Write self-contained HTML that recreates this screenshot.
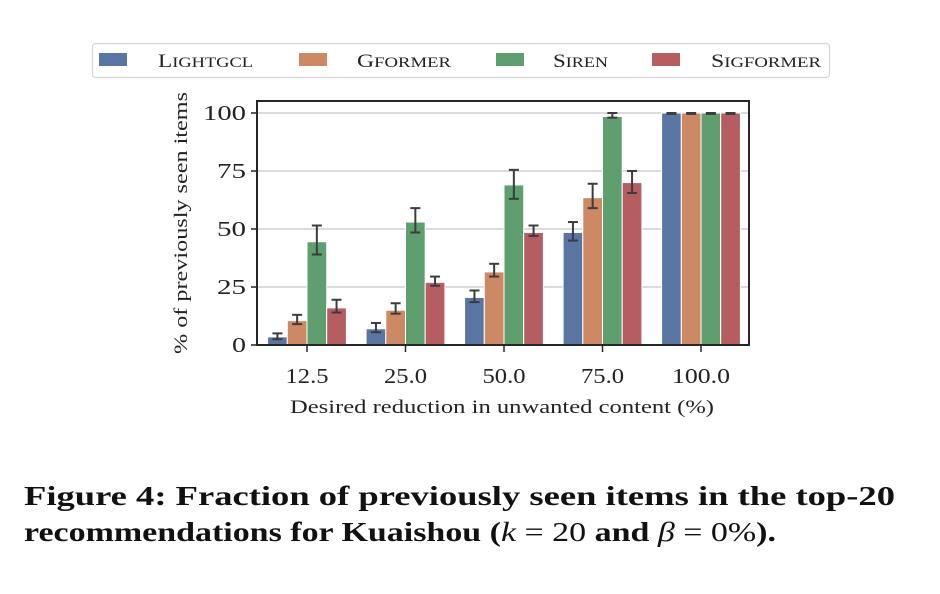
<!DOCTYPE html>
<html><head><meta charset="utf-8"><style>
html,body{margin:0;padding:0;background:#fff;width:940px;height:594px;overflow:hidden}
svg{display:block;font-family:"Liberation Serif",serif}
</style></head><body>
<svg id="s" width="940" height="594" viewBox="0 0 940 594" xmlns="http://www.w3.org/2000/svg">
<rect x="92.5" y="43.5" width="737" height="34" rx="3" fill="#fff" stroke="#d6d6d6" stroke-width="1.2"/>
<rect x="99" y="53" width="28" height="13" fill="#5875a4"/>
<text x="158" y="67" font-size="19" fill="#222" textLength="95" lengthAdjust="spacingAndGlyphs">L<tspan font-size="15">IGHTGCL</tspan></text>
<rect x="299" y="53" width="28" height="13" fill="#cc8963"/>
<text x="357" y="67" font-size="19" fill="#222" textLength="94" lengthAdjust="spacingAndGlyphs">G<tspan font-size="15">FORMER</tspan></text>
<rect x="496" y="53" width="28" height="13" fill="#5f9e6e"/>
<text x="553" y="67" font-size="19" fill="#222" textLength="55" lengthAdjust="spacingAndGlyphs">S<tspan font-size="15">IREN</tspan></text>
<rect x="652" y="53" width="28" height="13" fill="#b55d60"/>
<text x="711" y="67" font-size="19" fill="#222" textLength="110" lengthAdjust="spacingAndGlyphs">S<tspan font-size="15">IGFORMER</tspan></text>
<g id="g"></g>
<rect x="257" y="101" width="492" height="244" fill="none" stroke="#262626" stroke-width="2"/>
<text transform="translate(187,223) rotate(-90)" text-anchor="middle" font-size="19" fill="#222" textLength="262" lengthAdjust="spacingAndGlyphs">% of previously seen items</text>
<text x="290" y="413" font-size="19" fill="#222" textLength="424" lengthAdjust="spacingAndGlyphs">Desired reduction in unwanted content (%)</text>
<text x="24" y="505" font-size="27" font-weight="bold" fill="#111" textLength="871" lengthAdjust="spacingAndGlyphs">Figure 4: Fraction of previously seen items in the top-20</text>
<text x="24" y="541" font-size="27" font-weight="bold" fill="#111" textLength="752" lengthAdjust="spacingAndGlyphs">recommendations for Kuaishou (<tspan font-style="italic" font-weight="normal">k</tspan><tspan font-weight="normal"> = 20</tspan> and <tspan font-style="italic" font-weight="normal">β</tspan><tspan font-weight="normal"> = 0%</tspan>).</text>
</svg>
<script>
var g=document.getElementById('g'),h='';
function Y(v){return 345-2.32*v}
[0,25,50,75,100].forEach(function(t){var y=Y(t);
h+='<line x1="257" x2="749" y1="'+y+'" y2="'+y+'" stroke="#cfcfcf" stroke-width="1.5"/>';
h+='<line x1="251" x2="257" y1="'+y+'" y2="'+y+'" stroke="#262626" stroke-width="1.5"/>';
var w=(t<10?14:t<100?29:43);
h+='<text x="246" y="'+(y+7)+'" text-anchor="end" font-size="21" fill="#222" textLength="'+w+'" lengthAdjust="spacingAndGlyphs">'+t+'</text>';});
var cols=['#5875a4','#cc8963','#5f9e6e','#b55d60'];
var vals=[[3.5,7,20.5,48.5,100],[10.5,15,31.5,63.5,100],[44.5,53,69,98.5,100],[16,27,48.5,70,100]];
var err=[[[2.5,5],[5.5,9.5],[18.5,23.5],[45,53],[99.6,100]],[[9,13],[13.5,18],[29.5,35],[59,69.5],[99.6,100]],[[39,51.5],[48.5,59],[63,75.5],[98,100],[99.6,100]],[[14,19.5],[25.5,29.5],[47,51.5],[65.5,75],[99.6,100]]];
var labs=['12.5','25.0','50.0','75.0','100.0'];
for(var k=0;k<5;k++){var c=307+98.5*k;
h+='<line x1="'+c+'" x2="'+c+'" y1="345" y2="352" stroke="#262626" stroke-width="1.5"/>';
var lw=(k==4?58:43);
h+='<text x="'+(c-lw/2)+'" y="383" font-size="21" fill="#222" textLength="'+lw+'" lengthAdjust="spacingAndGlyphs">'+labs[k]+'</text>';
for(var i=0;i<4;i++){var x=c-39.4+19.7*i,y=Y(vals[i][k]);
h+='<rect x="'+x+'" y="'+y+'" width="19.7" height="'+(345-y)+'" fill="'+cols[i]+'" stroke="#fff" stroke-width="1"/>';
var m=x+9.85,a=Y(err[i][k][0]),b=Y(err[i][k][1]);
h+='<line x1="'+m+'" x2="'+m+'" y1="'+a+'" y2="'+b+'" stroke="#3c3c3c" stroke-width="2"/>';
h+='<line x1="'+(m-5)+'" x2="'+(m+5)+'" y1="'+a+'" y2="'+a+'" stroke="#3c3c3c" stroke-width="2"/>';
h+='<line x1="'+(m-5)+'" x2="'+(m+5)+'" y1="'+b+'" y2="'+b+'" stroke="#3c3c3c" stroke-width="2"/>';}}
g.innerHTML=h;
</script>
</body></html>
